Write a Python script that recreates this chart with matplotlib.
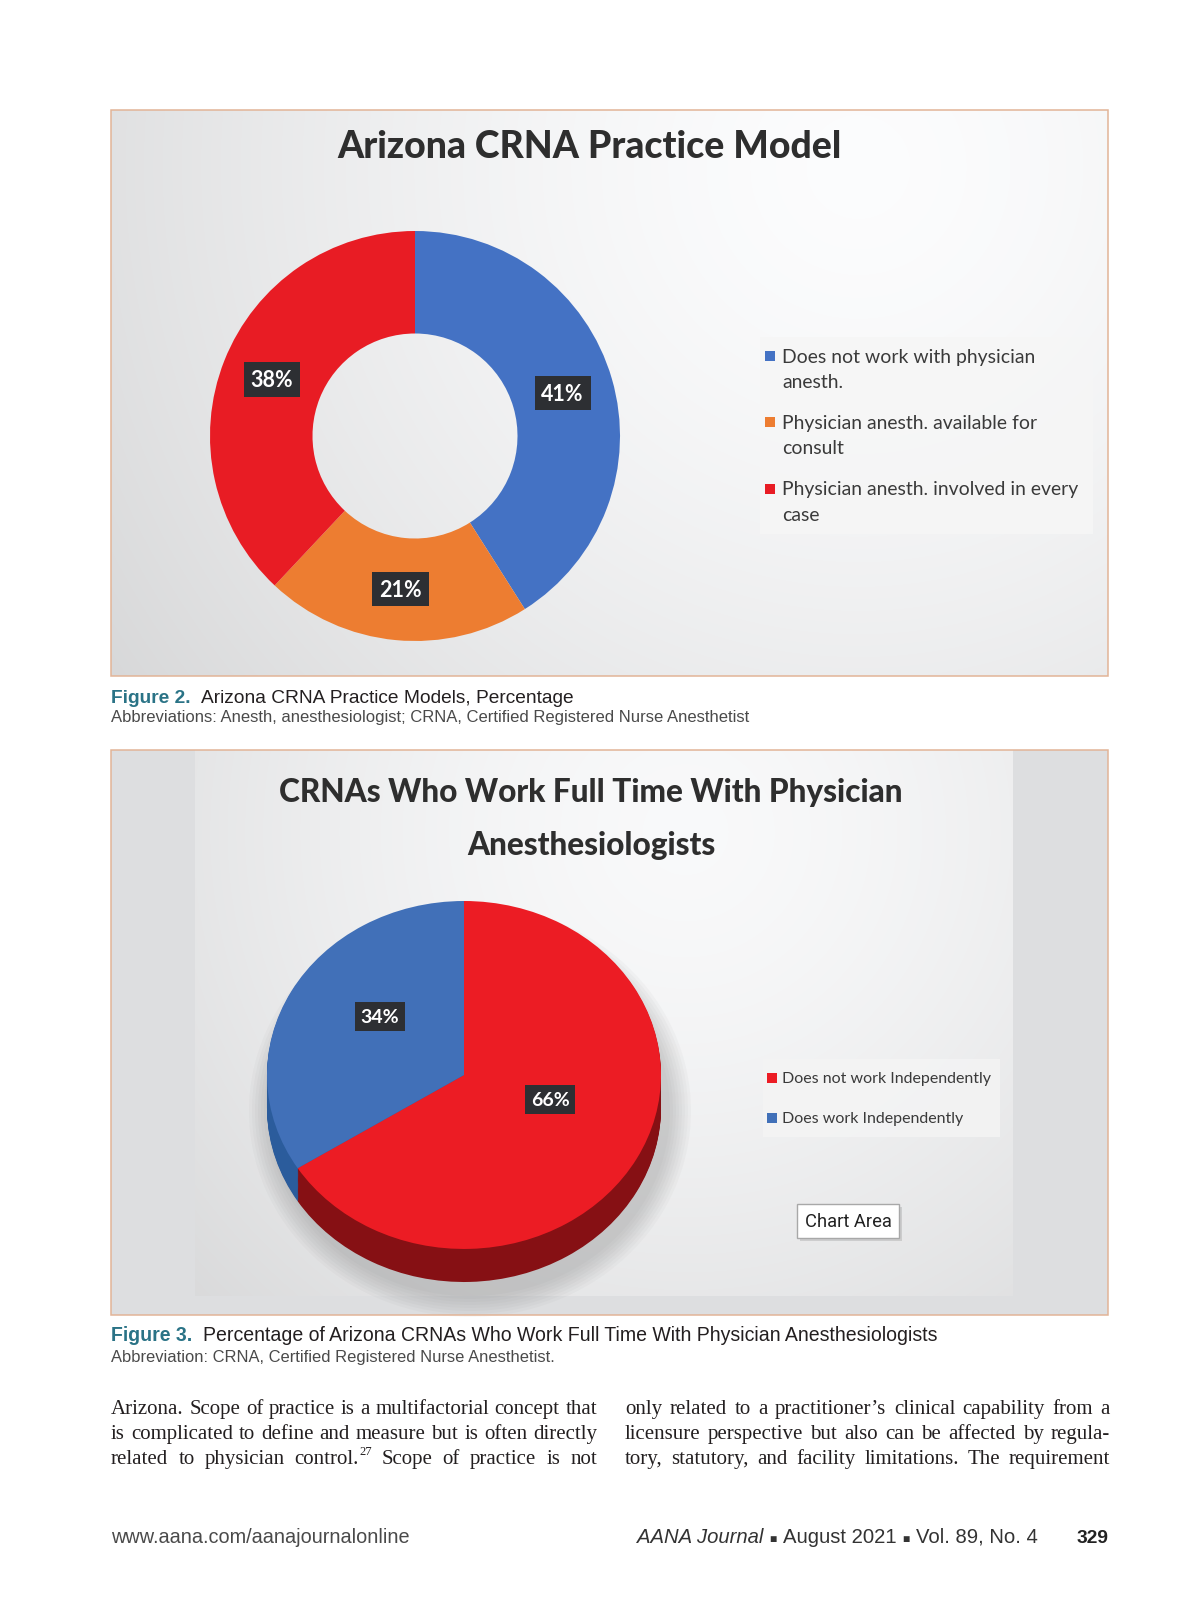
import matplotlib
matplotlib.use("Agg")
import matplotlib.pyplot as plt
import numpy as np
from matplotlib.patches import Rectangle, Ellipse

# ---------------------------------------------------------------------------
# Data
# ---------------------------------------------------------------------------
model_title = "Arizona CRNA Practice Model"
model_labels = ["Does not work with physician\nanesth.",
                "Physician anesth. available for\nconsult",
                "Physician anesth. involved in every\ncase"]
model_pct = [41, 21, 38]
model_colors = ["#4472C4", "#ED7D31", "#E81C24"]

indep_title = ["CRNAs Who Work Full Time With Physician", "Anesthesiologists"]
indep_labels = ["Does not work Independently", "Does work Independently"]
indep_pct = [66, 34]
indep_colors = ["#EC1C24", "#4170B8"]
indep_side = ["#861014", "#2B5C9C"]

caption2 = ("Figure 2.", "Arizona CRNA Practice Models, Percentage")
abbrev2 = "Abbreviations: Anesth, anesthesiologist; CRNA, Certified Registered Nurse Anesthetist"
caption3 = ("Figure 3.", "Percentage of Arizona CRNAs Who Work Full Time With Physician Anesthesiologists")
abbrev3 = "Abbreviation: CRNA, Certified Registered Nurse Anesthetist."

body_left = ["Arizona. Scope of practice is a multifactorial concept that",
             "is complicated to define and measure but is often directly",
             "related to physician control.^27 Scope of practice is not"]
body_right = ["only related to a practitioner\u2019s clinical capability from a",
              "licensure perspective but also can be affected by regula-",
              "tory, statutory, and facility limitations. The requirement"]

footer_left = "www.aana.com/aanajournalonline"
footer_right = ["AANA Journal", "August 2021", "Vol. 89, No. 4"]
page_no = "329"

# ---------------------------------------------------------------------------
# Page setup (1 data unit = 1 pixel, y grows downward)
# ---------------------------------------------------------------------------
W, H = 1200, 1606
fig = plt.figure(figsize=(W / 100, H / 100), dpi=100)
fig.patch.set_facecolor("white")
page = fig.add_axes([0, 0, 1, 1])
page.axis("off")
renderer = fig.canvas.get_renderer()

CHART = "Lato"
SANS = ["Liberation Sans", "DejaVu Sans"]
SERIF = "Liberation Serif"
TEAL = "#2a7386"
INK = "#231f20"
LABEL_BG = "#2d2f33"


def px_axes(x0, y0, x1, y1):
    return fig.add_axes([x0 / W, 1 - y1 / H, (x1 - x0) / W, (y1 - y0) / H])


def gradient(x0, y0, x1, y1, cx, cy, hi, lo, spread):
    nx, ny = int(x1 - x0), int(y1 - y0)
    xx, yy = np.meshgrid(np.linspace(0, 1, nx), np.linspace(0, 1, ny))
    d = np.hypot((xx - cx) * (x1 - x0), (yy - cy) * (y1 - y0)) / spread
    v = hi - (hi - lo) * np.clip(d, 0, 1) ** 1.5
    img = np.clip(np.dstack([v, v + 0.5, v + 1.5]) / 255, 0, 1)
    page.imshow(img, extent=(x0, x1, y1, y0), interpolation="bilinear", zorder=0)


def width_of(t):
    return t.get_window_extent(renderer).width


def fit(t, width):
    t.set_fontsize(t.get_fontsize() * width / width_of(t))
    return t


def run(x, y, pieces, width):
    """pieces: (text, props, rel_size, gap_em) laid out left to right, scaled to width."""
    texts = [page.text(x, y, s, fontsize=10 * rel, ha="left", va="baseline", **p)
             for s, p, rel, _ in pieces]

    def lay():
        cur = x
        em = texts[0].get_fontsize() * 100 / 72
        for t, (_, _, _, g) in zip(texts, pieces):
            t.set_x(cur)
            cur += width_of(t) + g * em
        return cur - pieces[-1][3] * em - x

    k = width / lay()
    for t in texts:
        t.set_fontsize(t.get_fontsize() * k)
    lay()
    return texts


def justify(x0, x1, y, line, size, color=INK):
    items = []
    for tok in line.split(" "):
        if "^" in tok:
            base, sup = tok.split("^")
            items.append((page.text(x0, y, base, fontsize=size, family=SERIF,
                                    color=color, va="baseline"), False))
            items.append((page.text(x0, y - 0.42 * size * 100 / 72, sup, fontsize=size * 0.6,
                                    family=SERIF, color=color, va="baseline"), True))
        else:
            items.append((page.text(x0, y, tok, fontsize=size, family=SERIF,
                                    color=color, va="baseline"), False))
    widths = [width_of(t) for t, _ in items]
    gaps = sum(1 for _, att in items[1:] if not att)
    gap = (x1 - x0 - sum(widths)) / gaps
    cur = x0
    for i, (t, att) in enumerate(items):
        if i > 0 and not att:
            cur += gap
        t.set_x(cur)
        cur += widths[i]


def label_box(t, pad):
    t.set_bbox(dict(boxstyle=f"square,pad={pad}", fc=LABEL_BG, ec="none"))


# ---------------------------------------------------------------------------
# Figure 2 panel: donut
# ---------------------------------------------------------------------------
gradient(111, 111, 1108, 677, 0.75, 0.1, 252, 216, 900)
page.add_patch(Rectangle((111, 111), 997, 566, fill=False, ec="#e2b497", lw=1.1, zorder=5))

t = page.text(589, 147, model_title, ha="center", va="center", family=CHART,
              weight="black", color="#2e2e2e", fontsize=28)
fit(t, 506)

ax_d = px_axes(210, 232, 620, 642)
wedges, _, autotexts = ax_d.pie(model_pct, colors=model_colors, startangle=90,
                                counterclock=False, radius=1,
                                wedgeprops=dict(width=0.5, linewidth=0),
                                autopct=lambda p: f"{p:.0f}%", pctdistance=0.75,
                                textprops=dict(color="white", weight="bold",
                                               family=CHART, fontsize=15.5))
for a in autotexts:
    label_box(a, 0.32)
ax_d.set_xlim(-1, 1)
ax_d.set_ylim(-1, 1)
ax_d.axis("off")

# legend panel
page.add_patch(Rectangle((760, 338), 333, 197, fc="#f6f6f6", ec="none", alpha=0.85, zorder=1))
leg_rows = [357, 423, 490]
ref = page.text(782, 357, model_labels[0].split("\n")[0], family=CHART, fontsize=15)
leg_size = fit(ref, 253).get_fontsize()
ref.remove()
for row, lab, col in zip(leg_rows, model_labels, model_colors):
    page.scatter([770], [row], marker="s", s=50, color=col, zorder=3, linewidths=0)
    for i, part in enumerate(lab.split("\n")):
        page.text(782, row + i * 26, part, family=CHART, fontsize=leg_size,
                  color="#3a3a3a", va="center", zorder=3)

# caption
run(111, 703, [(caption2[0], dict(family=SANS, weight="bold", color=TEAL), 1.0, 0.55),
               (caption2[1], dict(family=SANS, color=INK), 1.0, 0)], 466)
run(111, 722, [(abbrev2, dict(family=SANS, color="#4a4a4a"), 1.0, 0)], 637)

# ---------------------------------------------------------------------------
# Figure 3 panel: 3-D pie
# ---------------------------------------------------------------------------
page.add_patch(Rectangle((111, 751), 997, 565, fc="#dddee0", ec="none", zorder=0))
gradient(195, 751, 1013, 1297, 0.6, 0.15, 249, 216, 700)
page.add_patch(Rectangle((111, 751), 997, 565, fill=False, ec="#e2b497", lw=1.1, zorder=5))

t1 = page.text(591, 793, indep_title[0], ha="center", va="center", family=CHART,
               weight="black", color="#2e2e2e", fontsize=26)
fit(t1, 625)
page.text(591, 846, indep_title[1], ha="center", va="center", family=CHART,
          weight="black", color="#2e2e2e", fontsize=t1.get_fontsize())

# soft shadow under the pie
for i in range(8):
    page.add_patch(Ellipse((470, 1112), 400 + i * 6, 370 + i * 6, fc="#606060",
                           ec="none", alpha=0.035, zorder=1))

depth = 0.19
ax_p = px_axes(267, 902, 661, 1283)
for off in np.linspace(depth, 0, 30, endpoint=False):
    ax_p.pie(indep_pct, colors=indep_side, startangle=90, counterclock=False,
             center=(0, -off), radius=1, wedgeprops=dict(linewidth=0))
ax_p.pie(indep_pct, colors=indep_colors, startangle=90, counterclock=False,
         radius=1, wedgeprops=dict(linewidth=0))
ax_p.set_aspect("auto")
ax_p.set_xlim(-1, 1)
ax_p.set_ylim(-1 - depth, 1)
ax_p.axis("off")
label_pos = [(0.437, -0.141), (-0.426, 0.336)]
for (lx, ly), p in zip(label_pos, indep_pct):
    lt = ax_p.text(lx, ly, f"{p}%", ha="center", va="center", color="white",
                   weight="bold", family=CHART, fontsize=14)
    label_box(lt, 0.3)

# legend panel
page.add_patch(Rectangle((763, 1060), 237, 78, fc="#f4f4f4", ec="none", alpha=0.85, zorder=1))
ref = page.text(782, 1079, indep_labels[0], family=CHART, fontsize=14)
leg2_size = fit(ref, 211).get_fontsize()
ref.remove()
for row, lab, col in zip([1079, 1119], indep_labels, indep_colors):
    page.scatter([772], [row], marker="s", s=42, color=col, zorder=3, linewidths=0)
    page.text(782, row, lab, family=CHART, fontsize=leg2_size, color="#3a3a3a",
              va="center", zorder=3)

# "Chart Area" tooltip
page.add_patch(Rectangle((800, 1208), 102, 34, fc="#9a9a9a", ec="none", alpha=0.35, zorder=2))
page.add_patch(Rectangle((797, 1205), 102, 34, fc="white", ec="#a8a8a8", lw=1, zorder=3))
ca = page.text(848, 1222, "Chart Area", ha="center", va="center", family="Roboto",
               color="#222222", fontsize=14, zorder=4)
fit(ca, 87)

run(111, 1341, [(caption3[0], dict(family=SANS, weight="bold", color=TEAL), 1.0, 0.55),
                (caption3[1], dict(family=SANS, color=INK), 1.0, 0)], 829)
run(111, 1362, [(abbrev3, dict(family=SANS, color="#4a4a4a"), 1.0, 0)], 442)

# ---------------------------------------------------------------------------
# Body text and footer
# ---------------------------------------------------------------------------
probe = page.text(0, 0, body_left[1], family=SERIF, fontsize=10)
body_size = 10 * 478 / width_of(probe)
probe.remove()
for i, (l, r) in enumerate(zip(body_left, body_right)):
    y = 1414 + i * 25
    justify(111, 597, y, l, body_size)
    justify(625, 1110, y, r, body_size)

run(111, 1543, [(footer_left, dict(family=SANS, color="#4a4a4a"), 1.0, 0)], 298)
plain = dict(family=SANS, color="#333333")
run(637, 1543, [(footer_right[0], dict(family=SANS, color="#333333", style="italic"), 1.0, 0.3),
                ("\u25a0", plain, 0.6, 0.3),
                (footer_right[1], plain, 1.0, 0.3),
                ("\u25a0", plain, 0.6, 0.3),
                (footer_right[2], plain, 1.0, 0)], 402)
run(1077, 1543, [(page_no, dict(family=SANS, weight="bold", color="#222222"), 1.0, 0)], 32)

page.set_xlim(0, W)
page.set_ylim(H, 0)
page.set_aspect("auto")

fig.savefig("out.png", dpi=100)
